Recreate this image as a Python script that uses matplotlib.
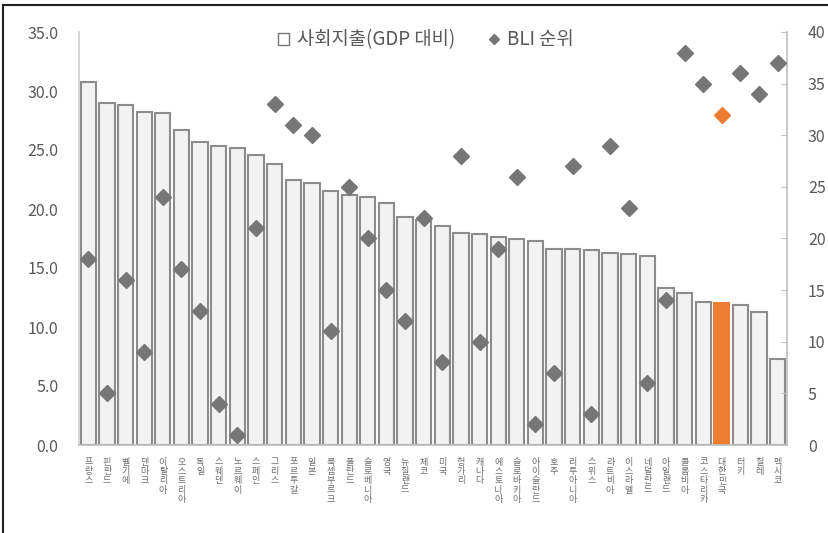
import matplotlib
matplotlib.use("Agg")
import matplotlib.pyplot as plt
from matplotlib.patches import Patch
from matplotlib.lines import Line2D

plt.rcParams['font.family'] = ['Noto Sans CJK KR', 'DejaVu Sans']

countries = ["프랑스", "핀란드", "벨기에", "덴마크", "이탈리아", "오스트리아", "독일", "스웨덴",
             "노르웨이", "스페인", "그리스", "포르투갈", "일본", "룩셈부르크", "폴란드", "슬로베니아",
             "영국", "뉴질랜드", "체코", "미국", "헝가리", "캐나다", "에스토니아", "슬로바키아",
             "아이슬란드", "호주", "리투아니아", "스위스", "라트비아", "이스라엘", "네덜란드",
             "아일랜드", "콜롬비아", "코스타리카", "대한민국", "터키", "칠레", "멕시코"]

social_spending = [30.8, 29.0, 28.8, 28.2, 28.1, 26.7, 25.7, 25.3, 25.2, 24.6, 23.8, 22.5, 22.2,
                   21.5, 21.2, 21.0, 20.5, 19.3, 19.1, 18.6, 18.0, 17.9, 17.6, 17.5, 17.3, 16.6,
                   16.6, 16.5, 16.3, 16.2, 16.0, 13.3, 12.9, 12.1, 12.0, 11.9, 11.3, 7.3]

bli_rank = [18, 5, 16, 9, 24, 17, 13, 4, 1, 21, 33, 31, 30, 11, 25, 20, 15, 12, 22, 8, 28, 10,
            19, 26, 2, 7, 27, 3, 29, 23, 6, 14, 38, 35, 32, 36, 34, 37]

highlight = "대한민국"

left_ticks = [0, 5, 10, 15, 20, 25, 30, 35]
right_ticks = [0, 5, 10, 15, 20, 25, 30, 35, 40]

GRAY_TXT = "#595959"
BAR_FACE = "#F2F2F2"
BAR_EDGE = "#8C8C8C"
DIAMOND = "#767676"
ORANGE = "#ED7D31"
SPINE = "#BFBFBF"

fig = plt.figure(figsize=(8.29, 5.33), dpi=100)
ax = fig.add_axes([79 / 829, 88 / 533, 708 / 829, 413 / 533])
ax2 = ax.twinx()

x = list(range(len(countries)))
face = [ORANGE if c == highlight else BAR_FACE for c in countries]
edge = [ORANGE if c == highlight else BAR_EDGE for c in countries]
ax.bar(x, social_spending, width=0.82, color=face, edgecolor=edge, linewidth=1.5, zorder=2)

ax.set_xlim(-0.5, len(countries) - 0.5)
ax.set_ylim(0, 35)
ax.set_yticks(left_ticks)
ax.set_yticklabels([f"{v:.1f}" for v in left_ticks])
ax.tick_params(axis='y', length=0, pad=15, labelsize=11.5, labelcolor=GRAY_TXT)
ax.set_xticks(x)
ax.set_xticklabels(["\n".join(c) for c in countries], fontsize=6.5, color="#6E6E6E",
                   linespacing=1.05, va='top')
ax.tick_params(axis='x', length=0, pad=9)

for s in ["top", "right"]:
    ax.spines[s].set_visible(False)
ax.spines["left"].set_color("#D0D0D0")
ax.spines["bottom"].set_color(SPINE)
ax.spines["left"].set_linewidth(1.2)
ax.spines["bottom"].set_linewidth(1.2)

for i, (c, r) in enumerate(zip(countries, bli_rank)):
    ax2.plot(i, r, marker='D', markersize=8.3, linestyle='none',
             color=ORANGE if c == highlight else DIAMOND, zorder=3)

ax2.set_ylim(0, 40)
ax2.set_yticks(right_ticks)
ax2.tick_params(axis='y', direction='in', length=4, color=SPINE, pad=15,
                labelsize=11.5, labelcolor=GRAY_TXT)
for s in ["top", "left", "bottom"]:
    ax2.spines[s].set_visible(False)
ax2.spines["right"].set_color(SPINE)
ax2.spines["right"].set_linewidth(1.2)

handles = [Patch(facecolor="white", edgecolor=DIAMOND, linewidth=1.0, label="사회지출(GDP 대비)"),
           Line2D([], [], marker='D', markersize=5, linestyle='none', color=DIAMOND, label="BLI 순위")]
fig.legend(handles=handles, loc='center', bbox_to_anchor=(426 / 829, 1 - 40 / 533), ncol=2,
           frameon=False, fontsize=13.5, labelcolor=GRAY_TXT, handlelength=0.6, handleheight=0.6,
           handletextpad=0.4, columnspacing=1.8)

# outer frame edges
fig.add_artist(Line2D([3 / 829, 1], [1 - 5 / 533, 1 - 5 / 533], color="#222222", linewidth=1.5))
fig.add_artist(Line2D([3 / 829, 3 / 829], [0, 1 - 5 / 533], color="#222222", linewidth=1.5))

fig.savefig("out.png", dpi=100)
